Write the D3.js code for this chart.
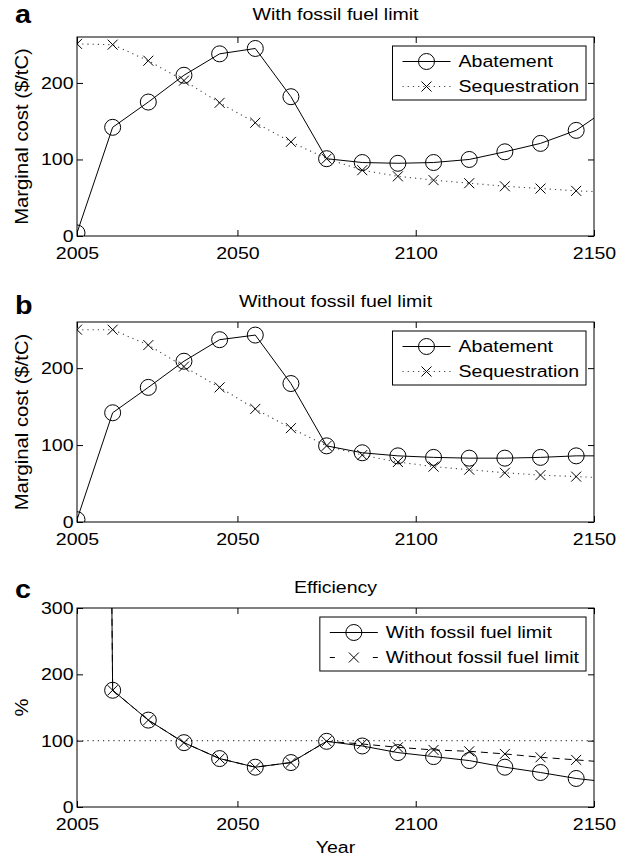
<!DOCTYPE html>
<html><head><meta charset="utf-8">
<script src="https://cdn.jsdelivr.net/npm/d3@7"></script>
<style>
body{margin:0;background:#fff}
svg text{font-family:"Liberation Sans",Arial,Helvetica,sans-serif;fill:#000}
</style>
</head><body>
<svg id="chart" width="623" height="857"></svg>
<script>
// ---------- data ----------
const years = [2005,2015,2025,2035,2045,2055,2065,2075,2085,2095,2105,2115,2125,2135,2145,2150];
const xTicks = [2005,2050,2100,2150];

// panel a: with fossil fuel limit
const abatementA     = [4,142,175,210,238,245,182,101,96,95,96,100,110,121,138,154];
const sequestrationA = [251,250,229,203,174,148,123,101,86,78,73,69,65,62,59,58];
// panel b: without fossil fuel limit
const abatementB     = [3,142,175,209,237,243,180,99,90,86,84,83,83,84,86,86];
const sequestrationB = [250,250,230,202,175,147,122,99,87,78,72,68,64,61,59,58];
// panel c: efficiency (%)
const efficiencyWith    = [6000,176,131,97,73,60,67,99,92,82,76,70,60,52,43,40];
const efficiencyWithout = [6000,176,131,97,73,60,67,99,95,90,86,84,80,75,71,69];

const costTicks = [0,100,200];
const effTicks = [0,100,200,300];

// ---------- layout ----------
const L = 77, R = 594;
const SX = 1.15;      // horizontal glyph stretch of the original
const FS = 17;
const svg = d3.select("#chart");
const x = d3.scaleLinear().domain([2005,2150]).range([L,R]);

function label(parent, px, py, str, o={}) {
  const g = parent.append("g")
    .attr("transform", `translate(${px},${py}) rotate(${o.rotate||0}) scale(${SX},1)`);
  return g.append("text")
    .attr("text-anchor", o.anchor||"middle")
    .attr("font-size", o.size||FS)
    .attr("font-weight", o.weight||"normal")
    .attr("dy", o.dy||0)
    .text(str);
}

const styles = {
  solid:  {stroke:"#000", dash:null, legendDash:null, width:1},
  dotted: {stroke:"#444", dash:"1.2,4", legendDash:"1.2,4", width:1.1},
  dashed: {stroke:"#000", dash:"7,5", legendDash:"5,38", width:1}
};

function drawMarker(g, type, cx, cy) {
  if (type === "circle") {
    g.append("circle").attr("cx",cx).attr("cy",cy).attr("r",8)
      .attr("fill","none").attr("stroke","#000").attr("stroke-width",1);
  } else {
    const s = 5;
    g.append("path").attr("d",`M${cx-s},${cy-s}L${cx+s},${cy+s}M${cx-s},${cy+s}L${cx+s},${cy-s}`)
      .attr("stroke","#000").attr("stroke-width",1).attr("fill","none");
  }
}

const panels = [
  {key:"a", title:"With fossil fuel limit", top:37, bottom:236, ymax:260, yticks:costTicks,
   ylabel:"Marginal cost ($/tC)", titleY:20, keyY:23, ref:false,
   series:[{vals:abatementA, style:"solid", marker:"circle", name:"Abatement"},
           {vals:sequestrationA, style:"dotted", marker:"x", name:"Sequestration"}]},
  {key:"b", title:"Without fossil fuel limit", top:322, bottom:522, ymax:260, yticks:costTicks,
   ylabel:"Marginal cost ($/tC)", titleY:306.5, keyY:314, ref:false,
   series:[{vals:abatementB, style:"solid", marker:"circle", name:"Abatement"},
           {vals:sequestrationB, style:"dotted", marker:"x", name:"Sequestration"}]},
  {key:"c", title:"Efficiency", top:608, bottom:807, ymax:300, yticks:effTicks,
   ylabel:"%", titleY:593, keyY:598, ref:true,
   series:[{vals:efficiencyWith, style:"solid", marker:"circle", name:"With fossil fuel limit"},
           {vals:efficiencyWithout, style:"dashed", marker:"x", name:"Without fossil fuel limit"}]}
];

panels.forEach(p => {
  const y = d3.scaleLinear().domain([0,p.ymax]).range([p.bottom,p.top]);
  const g = svg.append("g");
  const cid = "clip-"+p.key;
  svg.append("clipPath").attr("id",cid).append("rect")
    .attr("x",L).attr("y",p.top).attr("width",R-L).attr("height",p.bottom-p.top);

  // axes (inward ticks on all sides)
  const styleAxis = sel => {
    sel.attr("font-size",FS).attr("font-family",null);
    sel.select(".domain").remove();
    sel.selectAll("line").attr("stroke","#000");
    sel.selectAll("text").attr("transform",`scale(${SX},1)`);
  };
  g.append("g").attr("transform",`translate(0,${p.bottom})`)
    .call(d3.axisBottom(x).tickValues(xTicks).tickSizeInner(-6).tickSizeOuter(0).tickPadding(11).tickFormat(d3.format("d")))
    .call(styleAxis);
  g.append("g").attr("transform",`translate(0,${p.top})`)
    .call(d3.axisTop(x).tickValues(xTicks).tickSizeInner(-6).tickSizeOuter(0).tickFormat(""))
    .call(styleAxis);
  g.append("g").attr("transform",`translate(${L},0)`)
    .call(d3.axisLeft(y).tickValues(p.yticks).tickSizeInner(-6).tickSizeOuter(0).tickPadding(3).tickFormat(d3.format("d")))
    .call(styleAxis);
  g.append("g").attr("transform",`translate(${R},0)`)
    .call(d3.axisRight(y).tickValues(p.yticks).tickSizeInner(-6).tickSizeOuter(0).tickFormat(""))
    .call(styleAxis);

  // reference line
  const plot = g.append("g").attr("clip-path",`url(#${cid})`);
  if (p.ref) {
    plot.append("line").attr("x1",L).attr("x2",R).attr("y1",y(100)).attr("y2",y(100))
      .attr("stroke",styles.dotted.stroke).attr("stroke-width",styles.dotted.width)
      .attr("stroke-dasharray",styles.dotted.dash);
  }

  const line = d3.line().x((d,i)=>x(years[i])).y(d=>y(d));
  p.series.slice().reverse().forEach(s => {
    const st = styles[s.style];
    plot.append("path").attr("d",line(s.vals)).attr("fill","none")
      .attr("stroke",st.stroke).attr("stroke-width",st.width)
      .attr("stroke-dasharray",st.dash);
  });
  p.series.forEach(s => {
    s.vals.forEach((v,i) => {
      if (years[i] % 10 === 5) drawMarker(plot, s.marker, x(years[i]), y(v));
    });
  });

  // frame
  g.append("rect").attr("x",L).attr("y",p.top).attr("width",R-L).attr("height",p.bottom-p.top)
    .attr("fill","none").attr("stroke","#000").attr("stroke-width",1);

  // titles & labels
  label(g,(L+R)/2,p.titleY,p.title);
  label(g,15,p.keyY,p.key,{size:25,weight:"bold",anchor:"start"});
  label(g,22,(p.top+p.bottom)/2,p.ylabel,{rotate:-90,dy:"0.35em",size:17.6});

  // legend
  const lg = g.append("g");
  const texts = p.series.map((s,i)=>label(lg,0,0,s.name,{anchor:"start",dy:"0.35em"}));
  const tw = d3.max(texts, t => t.node().getComputedTextLength()) * SX;
  texts.forEach(t => t.node().parentNode.remove());
  const bRight = R - 8, bTop = p.top + 9, bH = 54;
  const bLeft = bRight - (tw + 66 + 7);
  lg.append("rect").attr("x",bLeft).attr("y",bTop).attr("width",bRight-bLeft).attr("height",bH)
    .attr("fill","#fff").attr("stroke","#000").attr("stroke-width",1);
  p.series.forEach((s,i) => {
    const ry = bTop + 15.5 + i*25;
    const st = styles[s.style];
    lg.append("line").attr("x1",bLeft+10).attr("x2",bLeft+58).attr("y1",ry).attr("y2",ry)
      .attr("stroke",st.stroke).attr("stroke-width",st.width).attr("stroke-dasharray",st.legendDash);
    drawMarker(lg, s.marker, bLeft+34, ry);
    label(lg,bLeft+66,ry,s.name,{anchor:"start",dy:"0.35em"});
  });
});

label(svg,(L+R)/2,853,"Year");
</script>
</body></html>
